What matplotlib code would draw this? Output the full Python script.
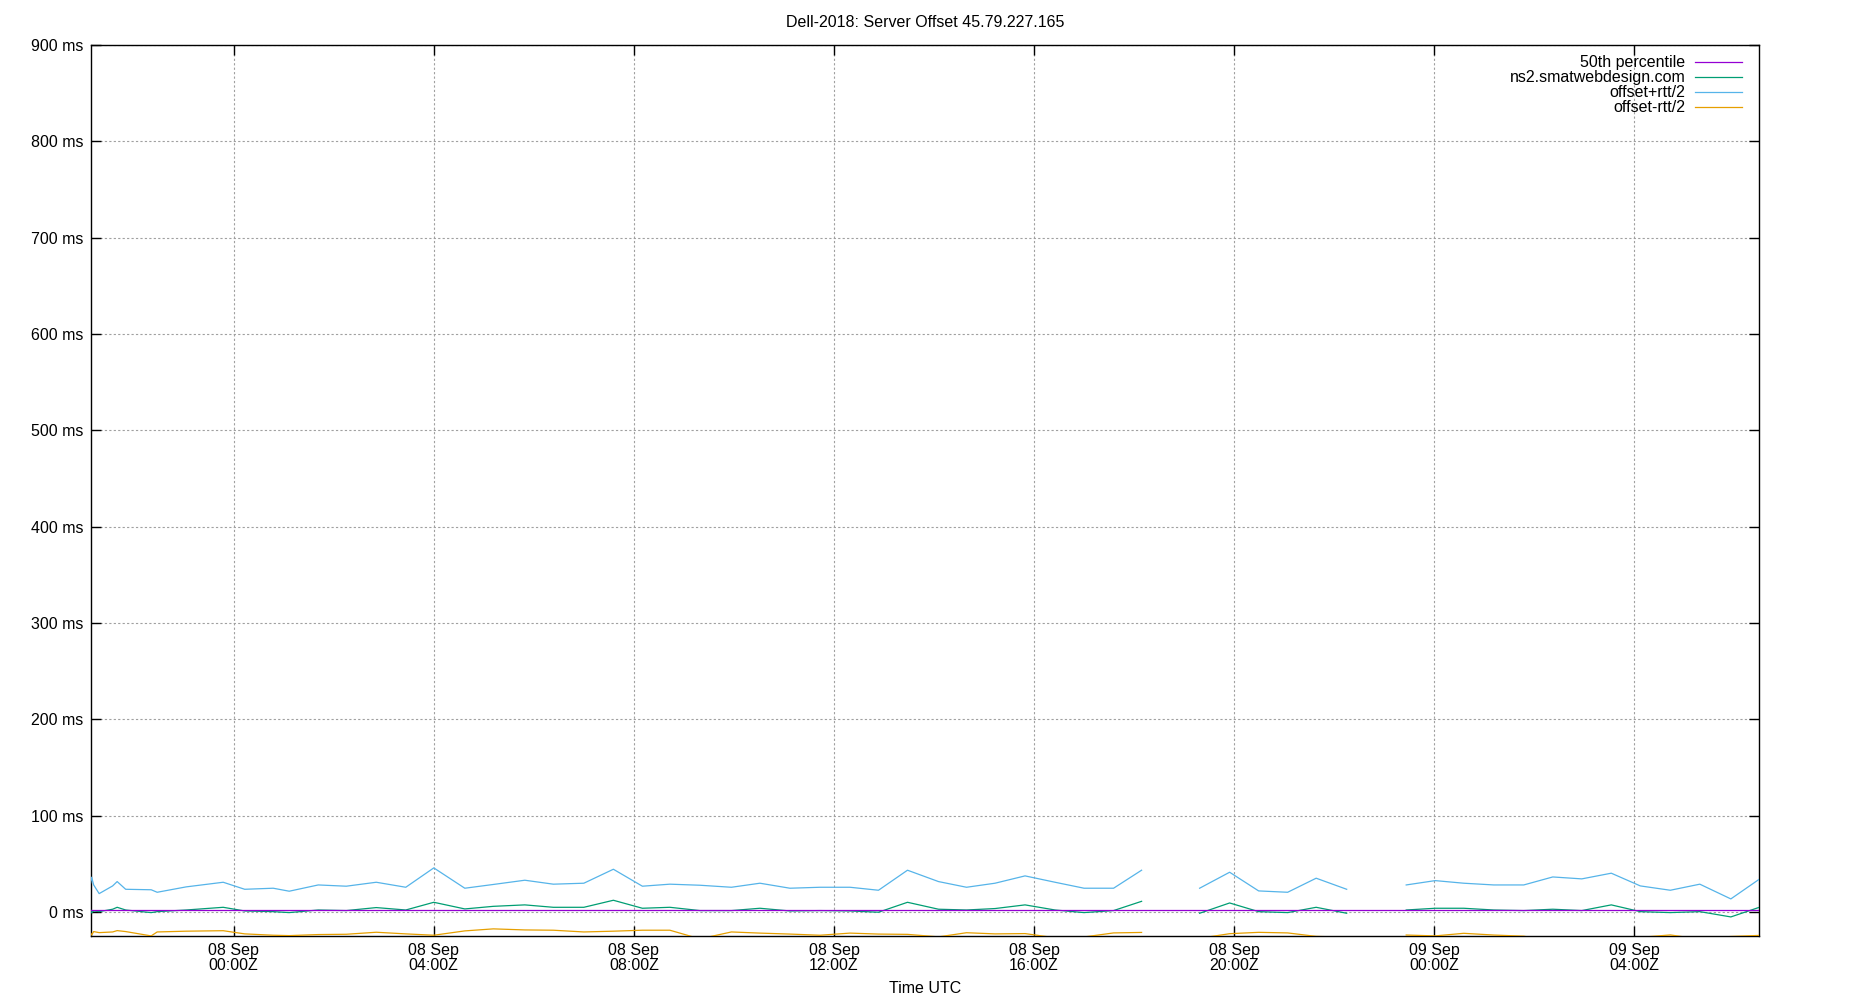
import datetime as dt

import numpy as np
import matplotlib
matplotlib.use("Agg")
import matplotlib.pyplot as plt
import matplotlib.dates as mdates

plt.rcParams['font.family'] = ['Liberation Sans', 'DejaVu Sans']

# hours relative to 08 Sep 00:00Z
base = dt.datetime(2018, 9, 8, 0, 0)
hours = [-2.86, -2.84, -2.80, -2.69, -2.42, -2.33, -2.16, -1.65, -1.53, -0.95,
         -0.21, 0.22, 0.79, 1.11, 1.69, 2.25, 2.85, 3.44, 4.00, 4.62,
         5.19, 5.82, 6.39, 7.00, 7.59, 8.17, 8.72, 9.32, 9.95, 10.52,
         11.12, 11.72, 12.32, 12.89, 13.47, 14.09, 14.65, 15.22, 15.82, 16.42,
         17.00, 17.59, 18.15, 18.73, 19.31, 19.91, 20.49, 21.07, 21.64, 22.25,
         22.85, 23.44, 24.02, 24.59, 25.19, 25.79, 26.37, 26.95, 27.54, 28.12,
         28.72, 29.31, 29.93, 30.50]

offset = [2, -1, 1, 0.3, 2.8, 4.8, 2, -0.7, 0.3, 2,
          4.8, 1, 0.3, -0.7, 2, 1.4, 4.5, 2, 10, 3.1,
          5.8, 7.3, 4.8, 4.8, 12.1, 3.8, 4.8, 1.4, 1.4, 3.8,
          1, 1.4, 1, -0.3, 10, 2.8, 2, 3.5, 7.3, 2,
          -0.7, 1.4, 11, np.nan, -1.4, 9.3, 0.3, -0.7, 4.8, -1.4,
          np.nan, 2, 3.8, 3.8, 2, 1.4, 2.8, 1.4, 7.3, 0.3,
          -0.7, 0.3, -5.2, 4.8]

offset_plus = [30, 36, 28, 19, 27, 31.5, 23.5, 23, 20.4, 26,
               30.8, 23.5, 24.6, 21.5, 28, 26.7, 30.8, 25.6, 45.7, 24.6,
               28.5, 32.9, 28.8, 29.8, 44.3, 26.7, 28.8, 27.7, 25.6, 29.8,
               24.6, 25.6, 25.6, 22.5, 43.3, 31.5, 25.6, 29.8, 37.4, 30.8,
               24.6, 24.6, 43.3, np.nan, 24.6, 41.2, 21.8, 20.4, 35, 23.5,
               np.nan, 28, 32.5, 29.8, 28, 28, 36.3, 34.3, 40.2, 27,
               22.5, 28.8, 13.5, 34]

offset_minus = [-22, -24, -20.4, -21.5, -20.8, -19.4, -20.4, -24.9, -20.8, -20,
                -19.5, -22.8, -24.2, -24.6, -23.5, -23.2, -21.1, -22.8, -24.2, -19.7,
                -17.6, -18.7, -19, -20.8, -20, -19, -19, -28, -20.8, -22,
                -23, -24.2, -22, -23, -23.3, -25.9, -21.6, -22.8, -22.5, -26.8,
                -26, -21.8, -21.3, np.nan, -27.4, -22.6, -21.2, -21.8, -25.4, -26.3,
                np.nan, -24, -24.9, -22.2, -24, -25.2, -30.7, -31.5, -25.6, -26.4,
                -23.9, -28.2, -25.5, -24.4]

median = 1.8

times = [base + dt.timedelta(hours=h) for h in hours]

fig = plt.figure(figsize=(18.5, 10), dpi=100)
ax = fig.add_axes([0.049, 0.064, 0.902, 0.891])

ax.plot([times[0], times[-1]], [median, median], color='#9400d3', lw=0.9,
        label='50th percentile', zorder=5)
ax.plot(times, offset, color='#009e73', lw=0.9, label='ns2.smatwebdesign.com', zorder=4)
ax.plot(times, offset_plus, color='#56b4e9', lw=0.9, label='offset+rtt/2', zorder=3)
ax.plot(times, offset_minus, color='#e69f00', lw=0.9, label='offset-rtt/2', zorder=3)

ax.set_xlim(times[0], times[-1])
ax.set_ylim(-25, 900)
ax.set_yticks(range(0, 901, 100))
ax.set_yticklabels([f'{v} ms' for v in range(0, 901, 100)])

ax.xaxis.set_major_locator(mdates.HourLocator(byhour=[0, 4, 8, 12, 16, 20]))
ax.xaxis.set_major_formatter(mdates.DateFormatter('%d %b\n%H:%MZ'))

ax.tick_params(direction='in', length=7, width=1, top=True, right=True,
               labelsize=11.5, pad=5)
for lbl in ax.get_xticklabels():
    lbl.set_linespacing(1.0)
ax.grid(True, color='#a0a0a0', linestyle=(0, (2, 2)), lw=0.8)
for s in ax.spines.values():
    s.set_linewidth(1.0)

ax.set_title('Dell-2018: Server Offset 45.79.227.165', fontsize=11.5, pad=13)
ax.set_xlabel('Time UTC', fontsize=11.5, labelpad=5.5)

leg = ax.legend(loc='upper right', bbox_to_anchor=(0.9894, 0.9886),
                frameon=False, markerfirst=False, fontsize=11.5,
                handlelength=2.9, labelspacing=0.0, borderaxespad=0.0,
                borderpad=0.0, handletextpad=0.63)

fig.savefig('out.png', dpi=100)
